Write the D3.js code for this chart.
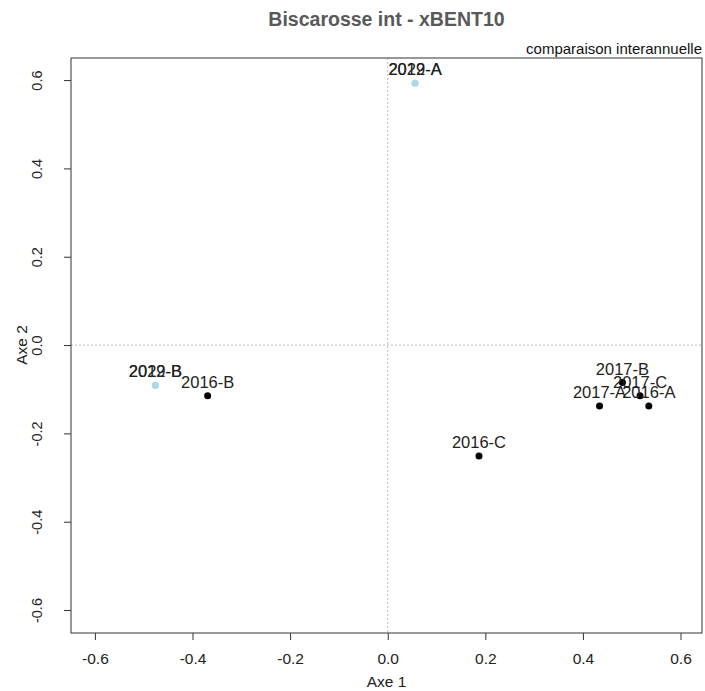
<!DOCTYPE html>
<html>
<head>
<meta charset="utf-8">
<script src="https://cdn.jsdelivr.net/npm/d3@7"></script>
<style>
  body { margin: 0; background: #fff; }
  text { font-family: "Liberation Sans", Arial, sans-serif; }
</style>
</head>
<body>
<div id="chart"></div>
<script>
// sample labels, coordinates on the two axes and group (black = 2016/2017, light blue = later years)
const labels = ["2019-A", "2022-A", "2019-B", "2022-B", "2016-B", "2016-C", "2017-A", "2017-B", "2017-C", "2016-A"];
const axe1 = [0.056, 0.056, -0.476, -0.476, -0.369, 0.187, 0.434, 0.481, 0.517, 0.535];
const axe2 = [0.593, 0.593, -0.091, -0.091, -0.115, -0.251, -0.138, -0.085, -0.115, -0.138];
const groups = ["new", "new", "new", "new", "old", "old", "old", "old", "old", "old"];
const tickValues = [-0.6, -0.4, -0.2, 0.0, 0.2, 0.4, 0.6];

const W = 705, H = 691;
const margin = {top: 58, right: 3, bottom: 58, left: 71};
const width = W - margin.left - margin.right;
const height = H - margin.top - margin.bottom;

const svg = d3.select("#chart").append("svg")
  .attr("width", W)
  .attr("height", H);

const g = svg.append("g")
  .attr("transform", "translate(" + margin.left + "," + margin.top + ")");

const x = d3.scaleLinear().domain([-0.649, 0.644]).range([0, width]);
const y = d3.scaleLinear().domain([-0.652, 0.650]).range([height, 0]);
const fmt = v => d3.format(".1f")(v).replace("\u2212", "-");
const color = d => d === "new" ? "#add8e6" : "#000";

// zero lines
g.append("line")
  .attr("x1", x(0)).attr("x2", x(0))
  .attr("y1", 0).attr("y2", height)
  .attr("stroke", "#bbb").attr("stroke-dasharray", "2,2");
g.append("line")
  .attr("x1", 0).attr("x2", width)
  .attr("y1", y(0)).attr("y2", y(0))
  .attr("stroke", "#bbb").attr("stroke-dasharray", "2,2");

// axes
const xAxis = g.append("g")
  .attr("transform", "translate(0," + height + ")")
  .call(d3.axisBottom(x).tickValues(tickValues).tickFormat(fmt).tickSize(7).tickSizeOuter(0));
xAxis.select(".domain").remove();
xAxis.selectAll("text").attr("font-size", 15.5).attr("fill", "#222").attr("dy", "1.35em")
  .attr("font-family", "Liberation Sans, Arial, sans-serif");

const yAxis = g.append("g")
  .call(d3.axisLeft(y).tickValues(tickValues).tickFormat(fmt).tickSize(7).tickSizeOuter(0));
yAxis.select(".domain").remove();
yAxis.selectAll("text")
  .attr("font-size", 14.5).attr("fill", "#222")
  .attr("font-family", "Liberation Sans, Arial, sans-serif")
  .attr("text-anchor", "middle")
  .attr("x", 0).attr("dy", 0)
  .attr("transform", "translate(-34,0) rotate(-90)")
  .attr("y", 0).attr("dominant-baseline", "central");
svg.selectAll(".tick line").attr("stroke", "#333");

// box
g.append("rect")
  .attr("width", width).attr("height", height)
  .attr("fill", "none").attr("stroke", "#333").attr("stroke-width", 1);

// points
const data = labels.map((l, i) => ({label: l, a1: axe1[i], a2: axe2[i], grp: groups[i]}));
g.selectAll("circle.pt")
  .data(data)
  .enter()
  .append("circle")
    .attr("class", "pt")
    .attr("cx", d => x(d.a1))
    .attr("cy", d => y(d.a2))
    .attr("r", 3.5)
    .attr("fill", d => color(d.grp));

g.selectAll("text.lab")
  .data(data)
  .enter()
  .append("text")
    .attr("class", "lab")
    .attr("x", d => x(d.a1))
    .attr("y", d => y(d.a2) - 8)
    .attr("text-anchor", "middle")
    .attr("font-size", 16.5)
    .attr("fill", "#222")
    .text(d => d.label);

// titles
svg.append("text")
  .attr("x", margin.left + width / 2).attr("y", 26)
  .attr("text-anchor", "middle")
  .attr("font-size", 19.5).attr("font-weight", "bold").attr("fill", "#595959")
  .text("Biscarosse int - xBENT10");

svg.append("text")
  .attr("x", W - 3).attr("y", 54)
  .attr("text-anchor", "end")
  .attr("font-size", 15).attr("fill", "#111")
  .text("comparaison interannuelle");

svg.append("text")
  .attr("x", margin.left + width / 2).attr("y", 687)
  .attr("text-anchor", "middle")
  .attr("font-size", 15.5).attr("fill", "#222")
  .text("Axe 1");

svg.append("text")
  .attr("transform", "translate(27," + (margin.top + y(0)) + ") rotate(-90)")
  .attr("text-anchor", "middle")
  .attr("font-size", 15.5).attr("fill", "#222")
  .text("Axe 2");
</script>
</body>
</html>
